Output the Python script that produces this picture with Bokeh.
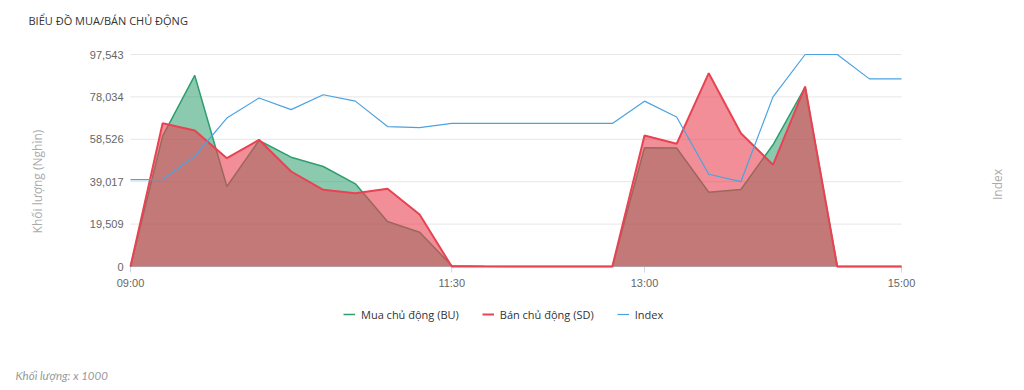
import math
from bokeh.plotting import figure
from bokeh.models import Range1d, Label, Legend, LegendItem
from bokeh.embed import file_html
from bokeh.resources import INLINE

# ---- data -------------------------------------------------------------
times = ["09:00", "09:15", "09:30", "09:45", "10:00", "10:15", "10:30", "10:45",
         "11:00", "11:15", "11:30", "11:45", "12:00", "12:15", "12:30", "12:45",
         "13:00", "13:15", "13:30", "13:45", "14:00", "14:15", "14:30", "14:45",
         "15:00"]
mua_bu = [0, 60000, 87900, 36800, 57970, 50290, 46010, 38050,
          20700, 15780, 400, 100, 0, 0, 0, 0,
          54610, 54500, 34180, 35430, 56000, 82500, 0, 0, 0]
ban_sd = [0, 65930, 62570, 49830, 58290, 43710, 35290, 33720,
          35750, 23925, 0, 0, 0, 0, 0, 0,
          60270, 56450, 88940, 61330, 46790, 82800, 0, 0, 0]
index_vals = [1270.2, 1270.2, 1272.4, 1276.0, 1277.9, 1276.8, 1278.2, 1277.6,
              1275.2, 1275.1, 1275.5, 1275.5, 1275.5, 1275.5, 1275.5, 1275.5,
              1277.6, 1276.1, 1270.7, 1270.0, 1278.0, 1282.0, 1282.0, 1279.7,
              1279.7]
y_ticks = [0, 19509, 39017, 58526, 78034, 97543]
x_tick_labels = ["09:00", "11:30", "13:00", "15:00"]
legend_labels = ["Mua chủ động (BU)", "Bán chủ động (SD)", "Index"]
title_text = "BIỂU ĐỒ MUA/BÁN CHỦ ĐỘNG"
y_title = "Khối lượng (Nghìn)"
y2_title = "Index"
footnote = "Khối lượng: x 1000"
index_range = (1262, 1282)


def to_min(t):
    h, m = t.split(":")
    return int(h) * 60 + int(m) - 9 * 60


xs = [to_min(t) for t in times]
x_ticks = [to_min(t) for t in x_tick_labels]
x_span = (0, 360)
y_span = (y_ticks[0], y_ticks[-1])

# ---- layout geometry (pixels of the 1024x390 canvas) ------------------
W, H = 1024, 390
PL, PR, PT, PB = 130, 901, 54, 266   # plot area edges

kx = (x_span[1] - x_span[0]) / (PR - PL)
ky = (y_span[1] - y_span[0]) / (PB - PT)
ki = (index_range[1] - index_range[0]) / (PB - PT)


def dx(px):
    return x_span[0] + (px - PL) * kx


def dy(py):
    return y_span[0] + (PB - py) * ky


GREEN = "#2e9e6e"
RED = "#e84352"
BLUE = "#4aa3e0"
GRID = "#e6e6e6"
AXIS = "#ccd6eb"

p = figure(width=W, height=H, output_backend="svg", toolbar_location=None,
           x_range=Range1d(dx(0), dx(W)), y_range=Range1d(dy(H), dy(0)),
           x_axis_location=None, y_axis_location=None,
           min_border=0, min_border_left=0, min_border_right=0,
           min_border_top=0, min_border_bottom=0, title=None)
p.outline_line_color = None
p.background_fill_color = "white"
p.border_fill_color = "white"
p.xgrid.visible = False
p.ygrid.visible = False
p.extra_y_ranges = {"idx": Range1d(index_range[0] - (H - PB) * ki,
                                   index_range[1] + PT * ki)}

# horizontal grid lines at the y ticks
p.segment(x0=[x_span[0]] * len(y_ticks), x1=[x_span[1]] * len(y_ticks),
          y0=y_ticks, y1=y_ticks, line_color=GRID, line_width=1)
# x axis line and ticks
p.segment(x0=[x_span[0]], x1=[x_span[1]], y0=[0], y1=[0],
          line_color=AXIS, line_width=1)
p.segment(x0=x_ticks, x1=x_ticks, y0=[0] * len(x_ticks),
          y1=[dy(PB + 6)] * len(x_ticks), line_color=AXIS, line_width=1)

# tick labels
for v, lab in zip(x_ticks, x_tick_labels):
    p.add_layout(Label(x=v, y=dy(282), text=lab, text_font="Liberation Sans",
                       text_font_size="11px", text_color="#666666",
                       text_align="center", text_baseline="middle"))
for v in y_ticks:
    p.add_layout(Label(x=dx(PL - 7), y=v, text=f"{v:,}",
                       text_font="Liberation Sans", text_font_size="11px",
                       text_color="#666666", text_align="right",
                       text_baseline="middle"))

# areas and lines
p.varea(x=xs, y1=[0] * len(xs), y2=mua_bu, fill_color=GREEN, fill_alpha=0.55)
g_line = p.line(xs, mua_bu, line_color=GREEN, line_width=1.5)
p.varea(x=xs, y1=[0] * len(xs), y2=ban_sd, fill_color=RED, fill_alpha=0.6)
r_line = p.line(xs, ban_sd, line_color=RED, line_width=2)
b_line = p.line(xs, index_vals, line_color=BLUE, line_width=1.2,
                y_range_name="idx")

legend = Legend(items=[LegendItem(label=legend_labels[0], renderers=[g_line]),
                       LegendItem(label=legend_labels[1], renderers=[r_line]),
                       LegendItem(label=legend_labels[2], renderers=[b_line])],
                orientation="horizontal", location=(343, H - 322),
                border_line_color=None, background_fill_alpha=0,
                padding=0, margin=0, spacing=23, glyph_width=12,
                glyph_height=16, label_height=16, label_standoff=6,
                label_text_font="Open Sans", label_text_font_size="11px",
                label_text_color="#333333")
p.add_layout(legend)

# titles
p.add_layout(Label(x=dx(28), y=dy(20), text=title_text, text_font="Open Sans",
                   text_font_size="11px", text_color="#333333",
                   text_align="left", text_baseline="middle"))
p.add_layout(Label(x=dx(37), y=dy(181), text=y_title, text_font="Open Sans",
                   angle=math.pi / 2, text_font_size="12px",
                   text_color="#aaaaaa", text_align="center",
                   text_baseline="middle"))
p.add_layout(Label(x=dx(997), y=dy(184), text=y2_title, text_font="Open Sans",
                   angle=math.pi / 2, text_font_size="12px",
                   text_color="#aaaaaa", text_align="center",
                   text_baseline="middle"))
p.add_layout(Label(x=dx(15), y=dy(375), text=footnote, text_font="Lato",
                   text_font_style="italic", text_font_size="11.5px",
                   text_color="#999999", text_align="left",
                   text_baseline="middle"))

open("out.html", "w").write(file_html(p, INLINE))
